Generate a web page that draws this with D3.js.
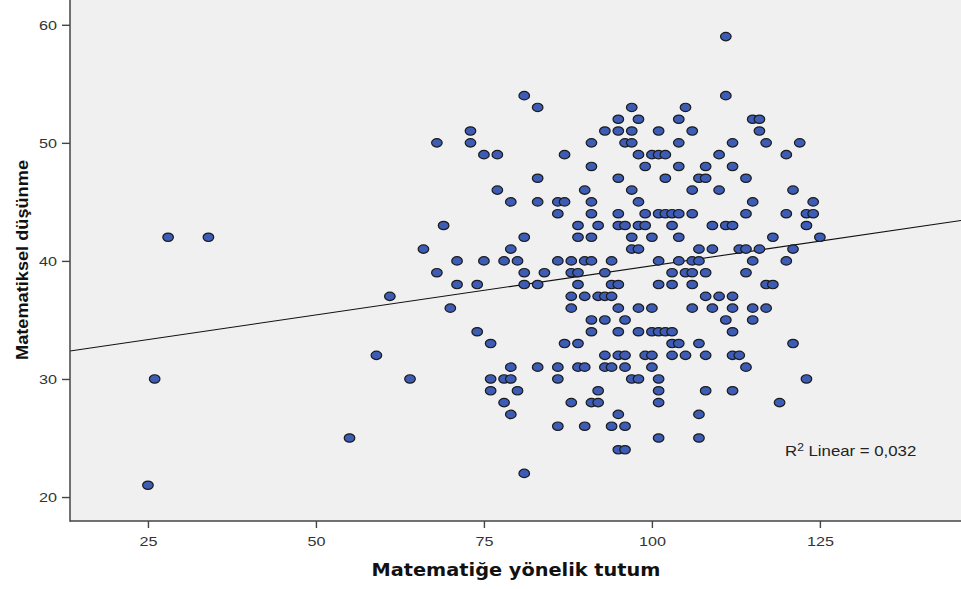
<!DOCTYPE html>
<html>
<head>
<meta charset="utf-8">
<script src="https://cdn.jsdelivr.net/npm/d3@7"></script>
<style>
  body { margin: 0; background: #fff; }
  svg { display: block; }
</style>
</head>
<body>
<svg width="961" height="589"></svg>
<script>
// x değerleri (Matematiğe yönelik tutum), satır satır y değerine göre
const rowY = [59, 54, 53, 52, 51, 50, 49, 48, 47, 46, 45, 44, 43, 42, 41, 40, 39, 38, 37, 36, 35, 34, 33, 32, 31, 30, 29, 28, 27, 26, 25, 24, 22, 21];
const rowX = [
  [111],
  [81, 111],
  [83, 97, 105],
  [95, 98, 104, 115, 116],
  [73, 93, 95, 97, 101, 106, 116],
  [68, 73, 91, 96, 97, 104, 112, 117, 122],
  [75, 77, 87, 98, 100, 101, 102, 110, 120],
  [91, 99, 104, 108, 112],
  [83, 95, 102, 107, 108, 114],
  [77, 90, 97, 106, 110, 121],
  [79, 83, 86, 87, 91, 98, 115, 124],
  [86, 91, 95, 99, 101, 102, 103, 104, 106, 114, 120, 123, 124],
  [69, 89, 92, 95, 96, 98, 99, 103, 109, 111, 112, 123],
  [28, 34, 81, 89, 91, 97, 100, 104, 118, 125],
  [66, 79, 97, 98, 107, 109, 113, 114, 116, 121],
  [71, 75, 78, 80, 86, 88, 90, 91, 94, 101, 104, 106, 107, 115, 120],
  [68, 81, 84, 88, 89, 93, 103, 105, 106, 108, 114],
  [71, 74, 81, 83, 89, 94, 95, 101, 103, 106, 117, 118],
  [61, 88, 90, 92, 93, 94, 108, 110, 112],
  [70, 88, 95, 98, 100, 106, 109, 112, 115, 117],
  [91, 93, 96, 111, 115],
  [74, 91, 95, 98, 100, 101, 102, 103, 112],
  [76, 87, 89, 103, 104, 107, 121],
  [59, 93, 95, 96, 99, 100, 103, 105, 108, 112, 113],
  [79, 83, 86, 89, 90, 93, 94, 96, 100, 114],
  [26, 64, 76, 78, 79, 86, 97, 98, 101, 123],
  [76, 80, 92, 101, 108, 112],
  [78, 88, 91, 92, 101, 119],
  [79, 95, 107],
  [86, 90, 94, 96],
  [55, 101, 107],
  [95, 96],
  [81],
  [25]
];
const xTicks = [25, 50, 75, 100, 125];
const yTicks = [20, 30, 40, 50, 60];
const xDomain = [13.4, 146];
const yDomain = [17.97, 62.1];
// doğrusal uyum (R2 Linear = 0,032)
const fitIntercept = 31.25;
const fitSlope = 0.0834;
const r2Text = "0,032";

let points = [];
rowY.forEach((yv, i) => rowX[i].forEach(xv => points.push({x: xv, y: yv})));

const svg = d3.select("svg");
const area = {left: 70, right: 961, top: 0, bottom: 521};

const scX = d3.scaleLinear().domain(xDomain).range([area.left, area.right]);
const scY = d3.scaleLinear().domain(yDomain).range([area.bottom, area.top]);

// arka plan
svg.append("rect")
  .attr("x", area.left).attr("y", area.top)
  .attr("width", area.right - area.left).attr("height", area.bottom - area.top)
  .attr("fill", "#f0f0f0");

svg.append("clipPath").attr("id", "clip")
  .append("rect")
  .attr("x", area.left).attr("y", area.top)
  .attr("width", area.right - area.left).attr("height", area.bottom - area.top);

// regresyon çizgisi
const lineF = d3.line().x(d => scX(d)).y(d => scY(fitIntercept + fitSlope * d));
svg.append("path")
  .datum(xDomain)
  .attr("d", lineF)
  .attr("clip-path", "url(#clip)")
  .style("fill", "none")
  .style("stroke", "#111")
  .style("stroke-width", 1.1);

// noktalar
svg.append("g").selectAll("ellipse")
  .data(points)
  .enter()
  .append("ellipse")
  .attr("cx", d => scX(d.x))
  .attr("cy", d => scY(d.y))
  .attr("rx", 5.3)
  .attr("ry", 4.2)
  .style("fill", "#3d5cb5")
  .style("stroke", "#1b1b1b")
  .style("stroke-width", 1.2);

// eksenler
const axisX = d3.axisBottom(scX).tickValues(xTicks).tickSize(7).tickSizeOuter(0).tickPadding(5);
const axisY = d3.axisLeft(scY).tickValues(yTicks).tickSize(8).tickSizeOuter(0).tickPadding(5);

const gx = svg.append("g")
  .attr("transform", `translate(0,${area.bottom})`)
  .call(axisX);
const gy = svg.append("g")
  .attr("transform", `translate(${area.left},0)`)
  .call(axisY);

[gx, gy].forEach(g => {
  g.select(".domain").remove();
  g.selectAll(".tick line").style("stroke", "#444").style("stroke-width", 1.4);
  g.selectAll(".tick text")
    .style("font-family", "'Liberation Sans', Arial, sans-serif")
    .style("font-size", "13.5px")
    .style("fill", "#333")
    .attr("textLength", d => String(d).length * 9)
    .attr("lengthAdjust", "spacingAndGlyphs");
});
gx.selectAll(".tick text").attr("dy", "0.95em");

// eksen çizgileri
svg.append("line")
  .attr("x1", area.left).attr("x2", area.left)
  .attr("y1", area.top).attr("y2", area.bottom + 0.7)
  .style("stroke", "#444").style("stroke-width", 1.5);
svg.append("line")
  .attr("x1", area.left).attr("x2", area.right)
  .attr("y1", area.bottom).attr("y2", area.bottom)
  .style("stroke", "#444").style("stroke-width", 1.5);

// eksen başlıkları
svg.append("text")
  .attr("x", 516).attr("y", 576)
  .attr("text-anchor", "middle")
  .attr("textLength", 289)
  .attr("lengthAdjust", "spacingAndGlyphs")
  .style("font-family", "'DejaVu Sans', Verdana, sans-serif")
  .style("font-weight", "bold")
  .style("font-size", "18px")
  .style("fill", "#111")
  .text("Matematiğe yönelik tutum");

svg.append("text")
  .attr("transform", "translate(28,260) rotate(-90)")
  .attr("text-anchor", "middle")
  .attr("textLength", 200)
  .attr("lengthAdjust", "spacingAndGlyphs")
  .style("font-family", "'Liberation Sans', Arial, sans-serif")
  .style("font-weight", "bold")
  .style("font-size", "17px")
  .style("fill", "#111")
  .text("Matematiksel düşünme");

// R2 etiketi
const r2 = svg.append("text")
  .attr("transform", "translate(785,456) scale(1.2,1)")
  .style("font-family", "'Liberation Sans', Arial, sans-serif")
  .style("font-size", "14px")
  .style("fill", "#222");
r2.append("tspan").text("R");
r2.append("tspan").attr("dy", -5).style("font-size", "10px").text("2");
r2.append("tspan").attr("dy", 5).text(" Linear = " + r2Text);
</script>
</body>
</html>
